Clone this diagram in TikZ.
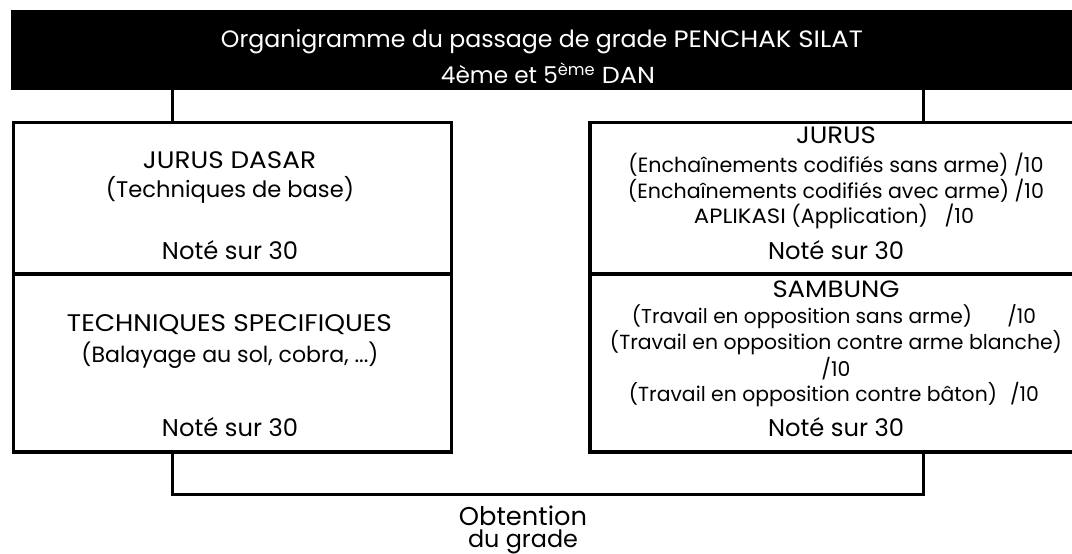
\documentclass[tikz,border=0pt]{standalone}
\usepackage{graphicx}
\usepackage{fontspec}
\setmainfont{Poppins}
\newfontfamily\capsf[FakeStretch=1.1]{Poppins}
\newcommand\fitw[2]{\resizebox{#1}{!}{#2}}
\newlength\glen
% total width, width of main text, main text, tail put at the right end
\newcommand\gapline[4]{\settowidth\glen{#3}\resizebox{#1pt}{!}{\hbox to \dimexpr\glen*#1/#2\relax{#3\hfill #4}}}
% scale #3 as #2 would be scaled to width #1
\newcommand\samescale[3]{\settowidth\glen{#2}\pgfmathsetmacro\scl{#1/\glen}\scalebox{\scl}{#3}}
\begin{document}
\begin{tikzpicture}[x=1pt,y=-1pt,
  box/.style={draw=black,line width=3.2pt,inner sep=0pt,minimum width=#1},
  lbl/.style={inner sep=0pt,anchor=center},
  wire/.style={line width=3.2pt}]
\useasboundingbox (0,0) rectangle (1072,554);
\clip (0,0) rectangle (1072,554);
% title bar
\node[fill=black,inner sep=0pt,minimum width=1100pt,minimum height=79.3pt,anchor=north west] (bar) at (11,10) {};
\node[lbl,text=white] (t1) at (542,41.5) {\fitw{642pt}{Organigramme du passage de grade {\capsf PENCHAK SILAT}}};
\node[lbl,text=white] (t2) at (548,73.5) {\fitw{214pt}{4ème et 5\textsuperscript{ème} {\capsf DAN}}};
% boxes
\node[box=438.5pt,minimum height=151.6pt,anchor=north west] (lt) at (11.7,120.7) {};
\node[box=438.5pt,minimum height=178pt,anchor=north west] (lb) at (11.7,272.3) {};
\node[box=496pt,minimum height=151.6pt,anchor=north west] (rt) at (588.3,120.7) {};
\node[box=496pt,minimum height=178pt,anchor=north west] (rb) at (588.3,272.3) {};
% left texts
\node[lbl] (a1) at (229.5,160.5) {\fitw{173pt}{\capsf JURUS DASAR}};
\node[lbl] (a2) at (230,190) {\fitw{248pt}{(Techniques de base)}};
\node[lbl] (a3) at (230,250) {\fitw{136pt}{Noté sur 30}};
\node[lbl] (b1) at (229.5,325) {\fitw{325pt}{\capsf TECHNIQUES SPECIFIQUES}};
\node[lbl] (b2) at (230,355.5) {\fitw{297pt}{(Balayage au sol, cobra, ...)}};
\node[lbl] (b3) at (230,426.7) {\fitw{136pt}{Noté sur 30}};
% right texts
\node[lbl] (c1) at (836,135) {\fitw{80pt}{\capsf JURUS}};
\node[lbl] (c2) at (836,165) {\fitw{415pt}{(Enchaînements codifiés sans arme) /10}};
\node[lbl] (c3) at (836,191) {\fitw{416pt}{(Enchaînements codifiés avec arme) /10}};
\node[lbl] (c4) at (834,216.7) {\gapline{280}{234}{{\capsf APLIKASI} (Application)}{/10}};
\node[lbl] (c5) at (836,250) {\fitw{136pt}{Noté sur 30}};
\node[lbl] (d1) at (836,289) {\fitw{127pt}{\capsf SAMBUNG}};
\node[lbl] (d2) at (834,316.7) {\gapline{404}{340}{(Travail en opposition sans arme)}{/10}};
\node[lbl] (d3) at (836,342.3) {\fitw{452pt}{(Travail en opposition contre arme blanche)}};
\node[lbl] (d4) at (836,368.3) {\samescale{452}{(Travail en opposition contre arme blanche)}{/10}};
\node[lbl] (d5) at (834,395) {\gapline{410}{368}{(Travail en opposition contre bâton)}{/10}};
\node[lbl] (d6) at (836,426.7) {\fitw{136pt}{Noté sur 30}};
% connectors
\coordinate (xl) at (172.3,0);
\coordinate (xr) at (923.7,0);
\coordinate (jn) at (548,494.5);
\draw[wire] (bar.south -| xl) -- (lt.north -| xl);
\draw[wire] (bar.south -| xr) -- (rt.north -| xr);
\draw[wire] (lb.south -| xl) |- (jn) -| (rb.south -| xr);
\node[inner sep=0pt,align=center,anchor=north,font=\fontsize{18}{22}\selectfont] (ob) at (523,506) {\fitw{128pt}{Obtention}\\\fitw{110pt}{du grade}};
\end{tikzpicture}
\end{document}
